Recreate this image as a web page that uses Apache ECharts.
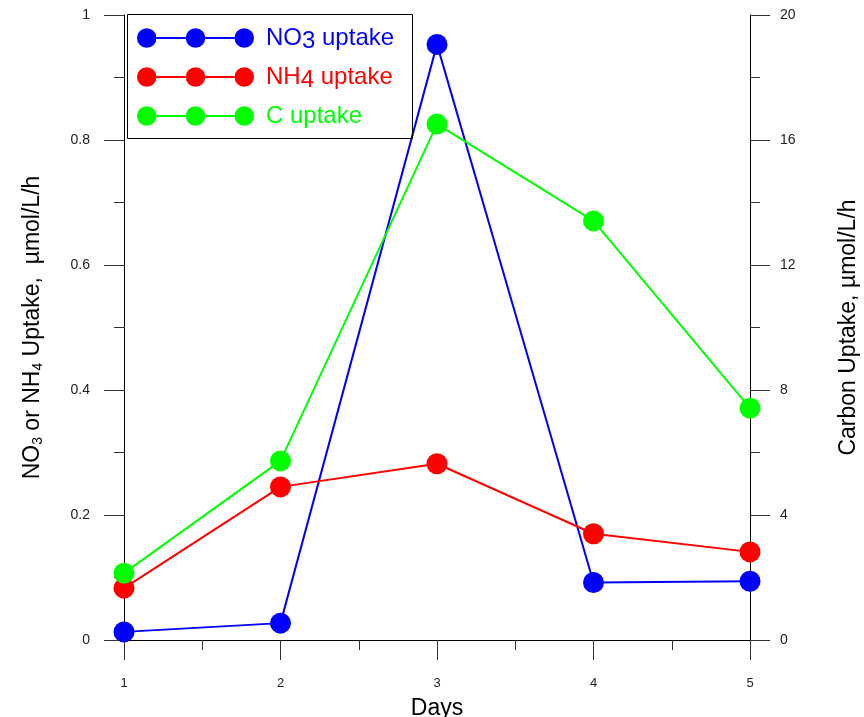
<!DOCTYPE html>
<html>
<head>
<meta charset="utf-8">
<script src="https://cdn.jsdelivr.net/npm/echarts@6/dist/echarts.min.js"></script>
<style>
html,body{margin:0;padding:0;background:#fff;}
#chart{width:864px;height:717px;}
</style>
</head>
<body>
<div id="chart"></div>
<script>
const days = [1, 2, 3, 4, 5];
const no3Uptake = [0.013, 0.027, 0.953, 0.092, 0.094];
const nh4Uptake = [0.083, 0.245, 0.282, 0.170, 0.141];
const cUptake = [2.14, 5.73, 16.51, 13.41, 7.42];
const seriesNames = ['NO3 uptake', 'NH4 uptake', 'C uptake'];
const seriesColors = ['#0000ff', '#ff0000', '#00ff00'];
const xAxisTitle = 'Days';
const leftAxisTitle = 'NO{sub|3} or NH{sub|4} Uptake,  \u00b5mol/L/h';
const rightAxisTitle = 'Carbon Uptake, \u00b5mol/L/h';

const FONT = '"Liberation Sans", Arial, sans-serif';
const pairs = (ys) => days.map((d, i) => [d, ys[i]]);

const legendIcon = 'path://M0,10a10,10 0 1,0 20,0a10,10 0 1,0 -20,0z' +
  'M50,10a10,10 0 1,0 20,0a10,10 0 1,0 -20,0z' +
  'M100,10a10,10 0 1,0 20,0a10,10 0 1,0 -20,0z' +
  'M20,9h30v2h-30z M70,9h30v2h-30z';

const axisCommon = {
  nameMoveOverlap: false,
  axisLine: { show: true, lineStyle: { color: '#000', width: 1 } },
  axisTick: { show: true, inside: false, length: 20, lineStyle: { color: '#333', width: 1 } },
  minorTick: { show: true, splitNumber: 2, length: 10, lineStyle: { color: '#333', width: 1 } },
  splitLine: { show: false },
  minorSplitLine: { show: false },
  axisLabel: { color: '#222', fontSize: 14, fontFamily: FONT }
};

const chart = echarts.init(document.getElementById('chart'), null, { renderer: 'canvas' });
chart.setOption({
  animation: false,
  backgroundColor: '#fff',
  grid: { left: 124, right: 114, top: 15, bottom: 77, containLabel: false, outerBoundsMode: 'none' },
  xAxis: Object.assign({}, axisCommon, {
    type: 'value', min: 1, max: 5, interval: 1,
    name: xAxisTitle, nameLocation: 'middle', nameGap: 57,
    nameTextStyle: { color: '#000', fontSize: 23, fontFamily: FONT },
    axisLabel: Object.assign({}, axisCommon.axisLabel, { margin: 37, fontSize: 13 })
  }),
  yAxis: [
    Object.assign({}, axisCommon, {
      type: 'value', min: 0, max: 1, interval: 0.2, position: 'left',
      name: leftAxisTitle, nameLocation: 'middle', nameGap: 79, nameRotate: 90,
      nameTextStyle: {
        color: '#000', fontSize: 23, fontFamily: FONT, lineHeight: 25,
        rich: { sub: { fontSize: 14, lineHeight: 15, verticalAlign: 'bottom' } }
      },
      axisLabel: Object.assign({}, axisCommon.axisLabel, {
        margin: 34,
        formatter: (v) => (v === 0 ? '0' : v === 1 ? '1' : v.toFixed(1))
      })
    }),
    Object.assign({}, axisCommon, {
      type: 'value', min: 0, max: 20, interval: 4, position: 'right',
      name: rightAxisTitle, nameLocation: 'middle', nameGap: 87, nameRotate: 90,
      nameTextStyle: { color: '#000', fontSize: 23, fontFamily: FONT },
      axisLabel: Object.assign({}, axisCommon.axisLabel, { margin: 30 })
    })
  ],
  legend: {
    orient: 'vertical', left: 137, top: 26, padding: 0, itemGap: 12,
    itemWidth: 117, itemHeight: 19.5, icon: legendIcon,
    selectedMode: false,
    textStyle: {
      fontSize: 24, fontFamily: FONT, padding: [0, 0, 0, 7],
      rich: { sub: { fontSize: 24, verticalAlign: 'bottom', padding: [6, 0, 0, 0] } }
    },
    formatter: (name) => name.replace(/^(NO|NH)(\d)/, '$1{sub|$2}'),
    data: seriesNames.map((n, i) => ({ name: n, textStyle: { color: seriesColors[i] } }))
  },
  graphic: [{
    type: 'rect', z: 100, silent: true,
    shape: { x: 127.5, y: 14.5, width: 285, height: 124 },
    style: { fill: 'none', stroke: '#000', lineWidth: 1 }
  }],
  series: [
    { name: seriesNames[0], type: 'line', yAxisIndex: 0, data: pairs(no3Uptake) },
    { name: seriesNames[1], type: 'line', yAxisIndex: 0, data: pairs(nh4Uptake) },
    { name: seriesNames[2], type: 'line', yAxisIndex: 1, data: pairs(cUptake) }
  ].map((s, i) => Object.assign(s, {
    symbol: 'circle', symbolSize: 21, showSymbol: true,
    itemStyle: { color: seriesColors[i] },
    lineStyle: { color: seriesColors[i], width: 2 },
    emphasis: { disabled: true }
  }))
});
</script>
</body>
</html>
